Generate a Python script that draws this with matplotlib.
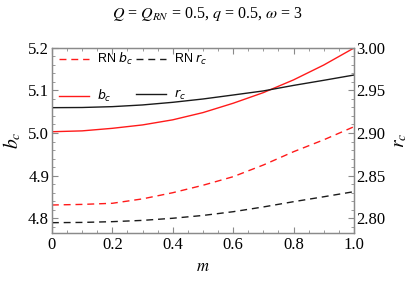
import matplotlib
matplotlib.use("Agg")
import matplotlib.pyplot as plt
from matplotlib.ticker import MultipleLocator, FormatStrFormatter
from matplotlib.font_manager import FontProperties

# values
m = [0.0, 0.1, 0.2, 0.3, 0.4, 0.5, 0.6, 0.7, 0.8, 0.9, 1.0]
b_c = [5.003, 5.005, 5.011, 5.019, 5.031, 5.048, 5.070, 5.095, 5.125, 5.160, 5.200]
r_c = [2.9298, 2.9300, 2.9310, 2.9330, 2.9361, 2.9400, 2.9447, 2.9495, 2.9560, 2.9620, 2.9682]
b_c_rn = [4.8306, 4.8320, 4.8346, 4.8450, 4.8595, 4.8770, 4.8972, 4.9247, 4.9560, 4.9840, 5.0148]
r_c_rn = [2.7945, 2.7948, 2.7957, 2.7972, 2.7997, 2.8030, 2.8074, 2.8130, 2.8192, 2.8250, 2.8310]
xtick_labels = ['0', '0.2', '0.4', '0.6', '0.8', '1.0']

plt.rcParams['font.family'] = ['Liberation Serif', 'DejaVu Serif']
plt.rcParams['mathtext.fontset'] = 'stix'

fig = plt.figure(figsize=(4.15, 2.84), dpi=100)
ax = fig.add_axes([0.125, 0.18, 0.728, 0.651])
ax2 = ax.twinx()

red = '#ff1a1a'
blk = '#1a1a1a'
dash = (0, (5, 3.5))

l1, = ax.plot(m, b_c_rn, color=red, lw=1.0, ls=dash, label='RN $b_c$')
l2, = ax.plot(m, b_c, color=red, lw=1.0, label='$b_c$')
l3, = ax2.plot(m, r_c_rn, color=blk, lw=1.0, ls=dash, label='RN $r_c$')
l4, = ax2.plot(m, r_c, color=blk, lw=1.0, label='$r_c$')

ax.set_xlim(0, 1)
ax.set_ylim(4.765, 5.2)
ax2.set_ylim(2.7825, 3.0)

ax.set_xticks([0, 0.2, 0.4, 0.6, 0.8, 1.0])
ax.set_xticklabels(xtick_labels)
ax.xaxis.set_minor_locator(MultipleLocator(0.05))
ax.yaxis.set_major_locator(MultipleLocator(0.1))
ax.yaxis.set_minor_locator(MultipleLocator(0.02))
ax2.yaxis.set_major_locator(MultipleLocator(0.05))
ax2.yaxis.set_minor_locator(MultipleLocator(0.01))
ax.yaxis.set_major_formatter(FormatStrFormatter('%.1f'))
ax2.yaxis.set_major_formatter(FormatStrFormatter('%.2f'))

gray = '#8a8a8a'
for a in (ax, ax2):
    for s in a.spines.values():
        s.set_color(gray)
        s.set_linewidth(0.9)
ax.tick_params(axis='x', which='both', direction='in', top=True, bottom=True,
               color=gray, labelsize=12, pad=3)
ax.tick_params(axis='y', which='both', direction='in', left=True, right=False,
               color=gray, labelsize=12, pad=2)
ax2.tick_params(axis='y', which='both', direction='in', right=True,
                color=gray, labelsize=12, pad=1.5)
for a in (ax, ax2):
    a.tick_params(which='major', length=4, width=0.8)
    a.tick_params(which='minor', length=2, width=0.6)

ax.set_xlabel('$m$', fontsize=12, labelpad=4)
ax.set_ylabel('$b_c$', fontsize=14, labelpad=4)
ax2.set_ylabel('$r_c$', fontsize=14, labelpad=5)

fig.text(0.5, 0.95, '$Q$ = $Q_{RN}$ = 0.5, $q$ = 0.5, $\\omega$ = 3',
         ha='center', va='center', fontsize=11.5)

leg_font = FontProperties(family='Liberation Sans', size=9, math_fontfamily='dejavusans')
leg = ax.legend(handles=[l1, l2, l3, l4], ncol=2, loc='upper left',
                bbox_to_anchor=(-0.012, 1.045), frameon=False, prop=leg_font,
                handlelength=2.4, handletextpad=0.6, columnspacing=0.25,
                labelspacing=1.7)

fig.savefig('out.png', dpi=100)
